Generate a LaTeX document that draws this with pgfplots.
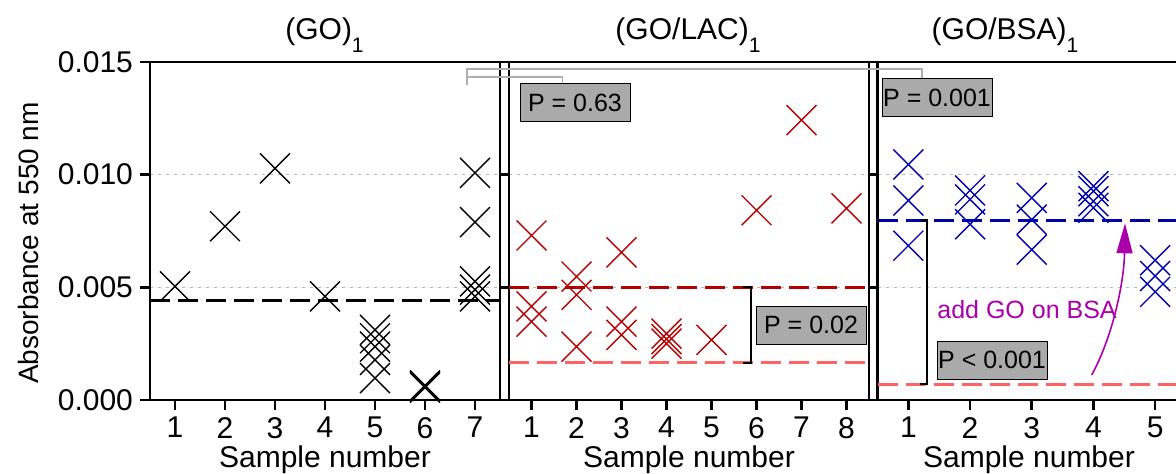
\documentclass[border=0pt]{standalone}
\usepackage{pgfplots}
\pgfplotsset{compat=1.18}
\usepackage{fontspec}
\setmainfont{Liberation Sans}
\usetikzlibrary{arrows.meta}
\definecolor{dred}{RGB}{180,0,0}
\definecolor{dblue}{RGB}{0,0,170}
\definecolor{salmon}{RGB}{255,100,100}
\definecolor{boxgray}{RGB}{170,170,170}
\definecolor{brgray}{RGB}{175,175,175}
\definecolor{gridgray}{RGB}{185,185,185}
\definecolor{mag}{RGB}{170,0,170}
\newcommand{\sub}[1]{\raisebox{-6.5pt}{\fontsize{10.5}{12}\selectfont #1}}
\pgfplotsset{
  panel/.style={
    scale only axis, height=169pt, ymin=0, ymax=0.015,
    ytick={0,0.005,0.01,0.015},
    scaled y ticks=false,
    anchor=south west,
    axis line style={line width=1.3pt},
    every tick/.style={line width=1.3pt, black},
    major tick length=5pt,
    tick align=outside,
    xtick pos=bottom,
    ymajorgrids,
    grid style={gridgray, line width=0.7pt, dash pattern=on 1.5pt off 2.5pt},
    tick label style={font=\fontsize{15}{18}\selectfont},
  },
  cross/.style={only marks, mark=x, mark size=10.6pt, mark options={line width=0.7pt}},
  mean/.style={line width=1.5pt, dash pattern=on 10pt off 4pt},
}
\begin{document}
\begin{tikzpicture}
% Panel 1: (GO)_1
\begin{axis}[panel, at={(75pt,37pt)}, width=175pt, xmin=0.5, xmax=7.5,
  xtick={1,2,3,4,5,6,7}, xticklabels={1,2,3,4,5,6,7},
  ytick pos=both, yticklabel pos=left, yticklabels={0.000,0.005,0.010,0.015}]
\addplot[black, mean] coordinates {(0.5,0.00442) (7.5,0.00442)};
\addplot[black, cross] coordinates {
(1,0.00504) (2,0.00771) (3,0.01028) (4,0.00460)
(5,0.00311) (5,0.00274) (5,0.00237) (5,0.00178) (5,0.00097)
(6,0.00055) (6,0.00060) (6,0.00065)
(7,0.01008) (7,0.00789) (7,0.00526) (7,0.00490) (7,0.00460)};
\end{axis}
% Panel 2: (GO/LAC)_1
\begin{axis}[panel, at={(254.5pt,37pt)}, width=180pt, xmin=0.5, xmax=8.5,
  xtick={1,2,3,4,5,6,7,8}, xticklabels={1,2,3,4,5,6,7,8},
  ytick pos=right, yticklabels={}]
\addplot[dred, mean] coordinates {(0.5,0.0050) (8.5,0.0050)};
\addplot[salmon, mean] coordinates {(0.5,0.00166) (8.5,0.00166)};
\addplot[dred, cross] coordinates {
(1,0.00730) (1,0.00415) (1,0.00348)
(2,0.00548) (2,0.00467) (2,0.00237)
(3,0.00655) (3,0.00348) (3,0.00289)
(4,0.00295) (4,0.00270) (4,0.00250)
(5,0.00267)
(6,0.00842) (7,0.01242) (8,0.00850)};
\draw[black, line width=1pt] (axis cs:5.69,0.0050) -- (axis cs:5.87,0.0050) -- (axis cs:5.87,0.00166) -- (axis cs:5.69,0.00166);
\end{axis}
% Panel 3: (GO/BSA)_1
\begin{axis}[panel, at={(438.75pt,37pt)}, width=154.25pt, xmin=0.5, xmax=5.5,
  xtick={1,2,3,4,5}, xticklabels={1,2,3,4,5},
  ytick pos=right, yticklabels={}]
\addplot[dblue, mean] coordinates {(0.5,0.00798) (5.5,0.00798)};
\addplot[salmon, mean] coordinates {(0.5,0.0007) (5.5,0.0007)};
\addplot[dblue, cross] coordinates {
(1,0.01045) (1,0.00885) (1,0.00685)
(2,0.00930) (2,0.00890) (2,0.00780)
(3,0.00897) (3,0.00800) (3,0.00667)
(4,0.00949) (4,0.00927) (4,0.00882) (4,0.00853)
(5,0.00620) (5,0.00550) (5,0.00480)};
\draw[black, line width=1pt] (axis cs:1.19,0.00798) -- (axis cs:1.30,0.00798) -- (axis cs:1.30,0.0007) -- (axis cs:1.19,0.0007);
\end{axis}
% gray comparison brackets
\draw[brgray, line width=0.8pt] (233.35pt,194.5pt) -- (233.35pt,202.5pt) -- (460.85pt,202.5pt) -- (460.85pt,198.15pt);
\draw[brgray, line width=0.8pt] (233.35pt,198.35pt) -- (281.15pt,198.35pt) -- (281.15pt,194.5pt);
% P boxes
\tikzset{pbox/.style={draw=black, line width=0.5pt, fill=boxgray, minimum width=55pt, minimum height=19pt, inner sep=0pt, font=\fontsize{12.5}{15}\selectfont}}
\node[pbox] at (287.5pt,185.5pt) {P = 0.63};
\node[pbox] at (405.5pt,74.3pt) {P = 0.02};
\node[pbox] at (468.5pt,188.25pt) {P = 0.001};
\node[pbox] at (496pt,56.9pt) {P < 0.001};
% annotation
\node[mag, font=\fontsize{12.5}{15}\selectfont] at (513.5pt,82pt) {add GO on BSA};
\draw[mag, line width=0.8pt, -{Triangle[length=15pt,width=8pt]}] (545.85pt,49.5pt) .. controls (556pt,68pt) and (562pt,95pt) .. (562.5pt,125.35pt);
% titles
\tikzset{ttl/.style={anchor=base, font=\fontsize{15}{18}\selectfont}}
\node[ttl] at (162.25pt,217pt) {(GO)\sub{1}};
\node[ttl] at (344pt,217pt) {(GO/LAC)\sub{1}};
\node[ttl] at (502.5pt,217pt) {(GO/BSA)\sub{1}};
% axis labels
\node[rotate=90, font=\fontsize{14}{17}\selectfont] at (14pt,115.5pt) {Absorbance at 550 nm};
\tikzset{xl/.style={anchor=base, font=\fontsize{15}{18}\selectfont}}
\node[xl] at (162.5pt,3.4pt) {Sample number};
\node[xl] at (344.5pt,3.4pt) {Sample number};
\node[xl] at (514.5pt,3.4pt) {Sample number};
\pgfresetboundingbox
\path[use as bounding box] (0pt,0pt) rectangle (588pt,237pt);
\end{tikzpicture}
\end{document}
